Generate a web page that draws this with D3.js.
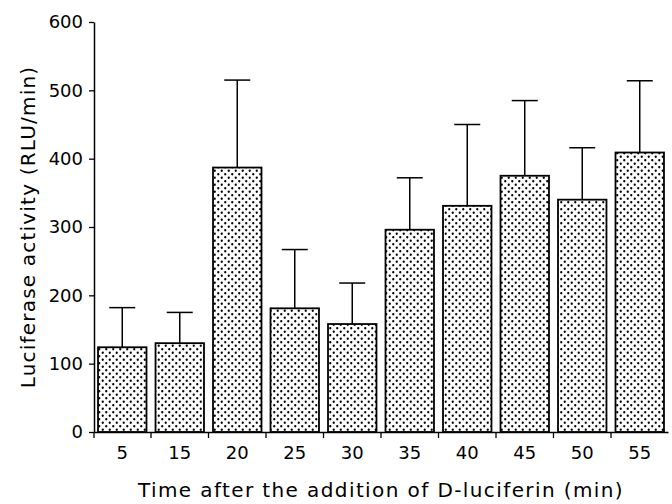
<!DOCTYPE html>
<meta charset="utf-8">
<style>
body { margin: 0; background: #fff; }
text { font-family: "DejaVu Sans", sans-serif; fill: #000; }
.bar { fill: url(#dots); stroke: #000; stroke-width: 1.8; }
.err { stroke: #000; stroke-width: 1.5; }
</style>
<body>
<script src="https://cdn.jsdelivr.net/npm/d3@7"></script>
<script>
// data
var times = ["5", "15", "20", "25", "30", "35", "40", "45", "50", "55"];
var activity = [124, 130, 387, 181, 158, 296, 331, 375, 340, 409];
var errors = [58, 45, 128, 86, 60, 76, 119, 110, 76, 105];
var yTicks = [0, 100, 200, 300, 400, 500, 600];

var margin = {top: 22, right: 4, bottom: 72, left: 94},
    width = 672 - margin.left - margin.right,
    height = 504 - margin.top - margin.bottom;

var x = d3.scaleBand()
    .domain(times)
    .range([0, width])
    .paddingInner(0.157)
    .paddingOuter(0.07);
var y = d3.scaleLinear()
    .domain([0, 600])
    .range([height, 0]);

var svg = d3.select("body").append("svg")
    .attr("width", 672)
    .attr("height", 504);

// dotted fill like the printed figure
var pat = svg.append("defs").append("pattern")
    .attr("id", "dots")
    .attr("patternUnits", "userSpaceOnUse")
    .attr("width", 7)
    .attr("height", 7);
pat.append("rect").attr("width", 7).attr("height", 7).attr("fill", "#fff");
pat.append("circle").attr("cx", 1.75).attr("cy", 1.75).attr("r", 1.15).attr("fill", "#000");
pat.append("circle").attr("cx", 5.25).attr("cy", 5.25).attr("r", 1.15).attr("fill", "#000");

var g = svg.append("g")
    .attr("transform", "translate(" + margin.left + "," + margin.top + ")");

var data = times.map(function(t, i) {
  return {t: t, v: activity[i], e: errors[i]};
});

// error bars (drawn first so bars sit on top)
var capW = 26;
g.selectAll(".errv")
    .data(data)
  .enter().append("line")
    .attr("class", "err")
    .attr("x1", function(d) { return x(d.t) + x.bandwidth() / 2; })
    .attr("x2", function(d) { return x(d.t) + x.bandwidth() / 2; })
    .attr("y1", function(d) { return y(d.v); })
    .attr("y2", function(d) { return y(d.v + d.e); });
g.selectAll(".errc")
    .data(data)
  .enter().append("line")
    .attr("class", "err")
    .attr("x1", function(d) { return x(d.t) + x.bandwidth() / 2 - capW / 2; })
    .attr("x2", function(d) { return x(d.t) + x.bandwidth() / 2 + capW / 2; })
    .attr("y1", function(d) { return y(d.v + d.e); })
    .attr("y2", function(d) { return y(d.v + d.e); });

g.selectAll(".bar")
    .data(data)
  .enter().append("rect")
    .attr("class", "bar")
    .attr("x", function(d) { return x(d.t); })
    .attr("width", x.bandwidth())
    .attr("y", function(d) { return y(d.v); })
    .attr("height", function(d) { return height - y(d.v); });

// y axis
var yAxis = g.append("g")
    .call(d3.axisLeft(y).tickValues(yTicks).tickSize(5).tickSizeOuter(0).tickPadding(6));
yAxis.select(".domain").attr("stroke-width", 1.5);
yAxis.selectAll(".tick line").attr("stroke-width", 1.3);
yAxis.selectAll("text").style("font-size", "18px");

// x axis: labels under bars, ticks between bars
var xAxis = g.append("g")
    .attr("transform", "translate(0," + height + ")")
    .call(d3.axisBottom(x).tickSize(0).tickSizeOuter(0).tickPadding(14));
xAxis.select(".domain").attr("stroke-width", 1.5);
xAxis.selectAll("text").style("font-size", "18px");

var gap = x.step() * x.paddingInner() / 2;
xAxis.selectAll(".sep")
    .data(times)
  .enter().append("line")
    .attr("stroke", "#000")
    .attr("stroke-width", 1.3)
    .attr("x1", function(d, i) { return i === 0 ? 0 : x(d) - gap; })
    .attr("x2", function(d, i) { return i === 0 ? 0 : x(d) - gap; })
    .attr("y1", 0)
    .attr("y2", 6);

// axis titles
svg.append("text")
    .attr("transform", "translate(35," + (margin.top + height / 2) + ") rotate(-90)")
    .attr("text-anchor", "middle")
    .style("font-size", "20px")
    .style("letter-spacing", "1.2px")
    .text("Luciferase activity (RLU/min)");

svg.append("text")
    .attr("x", margin.left + width / 2)
    .attr("y", 497)
    .attr("text-anchor", "middle")
    .style("font-size", "20px")
    .style("letter-spacing", "1.4px")
    .text("Time after the addition of D-luciferin (min)");
</script>
</body>
